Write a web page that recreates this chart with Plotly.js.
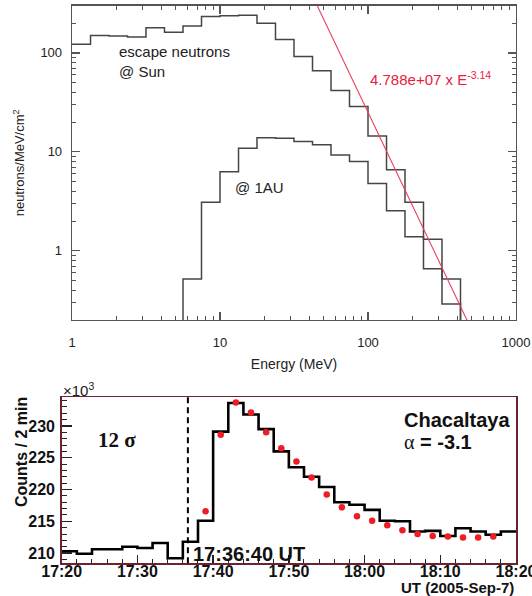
<!DOCTYPE html>
<html>
<head>
<meta charset="utf-8">
<script src="https://cdn.plot.ly/plotly-3.0.1.min.js"></script>
<style>html,body{margin:0;padding:0;background:#fff;}#chart{width:532px;height:596px;}</style>
</head>
<body>
<div id="chart"></div>
<script>
// ---- Top panel: neutron spectra ----
const energyEdges = [1, 1.334, 1.778, 2.371, 3.162, 4.217, 5.623, 7.499, 10, 13.34, 17.78, 23.71, 31.62, 42.17, 56.23, 74.99, 100, 133.4, 177.8, 237.1, 316.2, 421.7];
const escapeSun = [122, 150, 148, 145, 180, 162, 187, 233, 238, 240, 200, 137, 92, 66, 41.6, 28.7, 14.5, 6.6, 3.1, 1.31, 0.52];
const at1AU = [null, null, null, null, null, null, 0.52, 3.1, 6.3, 10.9, 13.9, 13.7, 12.7, 11.8, 9.3, 8.0, 4.8, 2.54, 1.39, 0.66, 0.29];
const fitAmplitude = 4.788e7;
const fitIndex = -3.14;
const fitEnergies = [40, 480];
const energyTicks = [1, 10, 100, 1000];
const energyTickText = ['1', '10', '100', '1000'];
const fluxTicks = [1, 10, 100];
const fluxTickText = ['1', '10', '100'];

// ---- Bottom panel: Chacaltaya counts ----
const day = '2005-09-07 ';
const binStarts = ['17:20','17:22','17:24','17:26','17:28','17:30','17:32','17:34','17:36','17:38',
  '17:40','17:42','17:44','17:46','17:48','17:50','17:52','17:54','17:56','17:58',
  '18:00','18:02','18:04','18:06','18:08','18:10','18:12','18:14','18:16','18:18'];
const binEnd = '18:20';
const counts = [210.3, 209.9, 210.6, 210.6, 211.0, 210.8, 211.6, 209.2, 211.8, 215.1,
  229.1, 233.6, 231.8, 229.5, 226.0, 223.5, 222.0, 220.4, 218.0, 217.6,
  216.8, 215.1, 215.0, 213.4, 213.5, 212.7, 213.9, 213.4, 212.9, 213.4];
const modelTimes = ['17:39','17:41','17:43','17:45','17:47','17:49','17:51','17:53','17:55','17:57',
  '17:59','18:01','18:03','18:05','18:07','18:09','18:11','18:13','18:15','18:17'];
const modelCounts = [216.6, 228.6, 233.7, 232.1, 229.0, 226.5, 224.4, 221.9, 219.2, 217.2,
  215.8, 215.1, 214.4, 213.6, 213.0, 212.7, 212.6, 212.45, 212.45, 212.6];
const onsetTime = '17:36:40';
const timeTicksMajor = ['17:20','17:30','17:40','17:50','18:00','18:10','18:20'];

const FONT = 'Liberation Sans, Arial, Helvetica, sans-serif';
const SERIF = 'Liberation Serif, Times New Roman, serif';

function stepTrace(edges, vals, floorVal, xa, ya, color, width) {
  const xs = [], ys = [];
  let first = vals.findIndex(v => v !== null);
  let last = vals.length - 1;
  while (vals[last] === null) last--;
  if (first > 0) { xs.push(edges[first]); ys.push(floorVal); }
  for (let i = first; i <= last; i++) { xs.push(edges[i]); ys.push(vals[i]); }
  xs.push(edges[last + 1]); ys.push(vals[last]);
  xs.push(edges[last + 1]); ys.push(floorVal);
  return {x: xs, y: ys, xaxis: xa, yaxis: ya, mode: 'lines', line: {shape: 'hv', color: color, width: width}, hoverinfo: 'skip', showlegend: false};
}

const traces = [];
traces.push(stepTrace(energyEdges, escapeSun, 0.01, 'x', 'y', '#454545', 1.5));
traces.push(stepTrace(energyEdges, at1AU, 0.01, 'x', 'y', '#454545', 1.5));
traces.push({x: fitEnergies, y: fitEnergies.map(e => fitAmplitude * Math.pow(e, fitIndex)), xaxis: 'x', yaxis: 'y',
  mode: 'lines', line: {color: '#e8405e', width: 1.1}, showlegend: false});

const tEdges = binStarts.concat([binEnd]).map(t => day + t);
const cx = [], cy = [];
for (let i = 0; i < counts.length; i++) { cx.push(tEdges[i]); cy.push(counts[i]); }
cx.push(tEdges[counts.length]); cy.push(counts[counts.length - 1]);
traces.push({x: cx, y: cy, xaxis: 'x2', yaxis: 'y2', mode: 'lines', line: {shape: 'hv', color: '#000', width: 2.6}, showlegend: false});
traces.push({x: modelTimes.map(t => day + t), y: modelCounts, xaxis: 'x2', yaxis: 'y2', mode: 'markers',
  marker: {color: '#ee1c25', size: 6.5}, showlegend: false});

const axisGray = '#555';
const layout = {
  width: 532, height: 596,
  margin: {l: 0, r: 0, t: 0, b: 0},
  paper_bgcolor: '#fff', plot_bgcolor: '#fff',
  font: {family: FONT, color: '#222'},
  showlegend: false,
  xaxis: {
    domain: [72/532, 516/532], anchor: 'y', type: 'log', range: [0, 3],
    tickmode: 'array', tickvals: energyTicks, ticktext: energyTickText,
    ticks: 'inside', ticklen: 8, tickwidth: 1.2, tickcolor: axisGray,
    minor: {ticks: 'inside', ticklen: 4, tickwidth: 1, tickcolor: axisGray, dtick: 'D1', showgrid: false},
    showline: true, linecolor: axisGray, linewidth: 1.3, mirror: 'ticks',
    showgrid: false, zeroline: false, ticklabeloverflow: 'allow',
    tickfont: {size: 13, color: '#222'}, ticklabelstandoff: 10,
    title: {text: 'Energy (MeV)', font: {size: 14, color: '#222'}, standoff: 10}
  },
  yaxis: {
    domain: [1 - 320/596, 1 - 5.7/596], anchor: 'x', type: 'log', range: [Math.log10(0.2), Math.log10(300)],
    tickmode: 'array', tickvals: fluxTicks, ticktext: fluxTickText,
    ticks: 'inside', ticklen: 8, tickwidth: 1.2, tickcolor: axisGray,
    minor: {ticks: 'inside', ticklen: 4, tickwidth: 1, tickcolor: axisGray, dtick: 'D1', showgrid: false},
    showline: true, linecolor: axisGray, linewidth: 1.3, mirror: 'ticks',
    showgrid: false, zeroline: false,
    tickfont: {size: 13, color: '#222'}, ticklabelstandoff: 6,
    title: {text: 'neutrons/MeV/cm<sup>2</sup>', font: {size: 13, color: '#222'}, standoff: 12}
  },
  xaxis2: {
    domain: [61.7/532, 516/532], anchor: 'y2', type: 'date',
    range: [day + '17:20', day + '18:20'],
    tickmode: 'array', tickvals: timeTicksMajor.map(t => day + t), ticktext: timeTicksMajor,
    ticks: 'inside', ticklen: 8, tickwidth: 1.3, tickcolor: '#222',
    minor: {ticks: 'inside', ticklen: 4, tickwidth: 1, tickcolor: '#222', dtick: 120000, showgrid: false},
    showline: true, linecolor: '#6e2230', linewidth: 1.5, mirror: true,
    showgrid: false, zeroline: false, ticklabeloverflow: 'allow',
    tickfont: {size: 16, color: '#111', weight: 'bold'}, ticklabelstandoff: -7
  },
  yaxis2: {
    domain: [1 - 563.3/596, 1 - 397.3/596], anchor: 'x2', range: [208.4, 234.5],
    dtick: 5, tick0: 210,
    ticks: 'inside', ticklen: 10, tickwidth: 1.3, tickcolor: '#222',
    minor: {ticks: 'inside', ticklen: 5, tickwidth: 1, tickcolor: '#222', dtick: 1, showgrid: false},
    showline: true, linecolor: '#6e2230', linewidth: 1.5, mirror: true,
    showgrid: false, zeroline: false,
    tickfont: {size: 16, color: '#111', weight: 'bold'}, ticklabelstandoff: 2
  },
  shapes: [{type: 'line', xref: 'x2', yref: 'y2 domain', x0: day + onsetTime, x1: day + onsetTime, y0: 0, y1: 1,
    line: {color: '#000', width: 2, dash: '6px,4px'}}],
  annotations: [
    {xref: 'x', yref: 'y', x: 0.302, y: 1.914, xanchor: 'left', yanchor: 'middle', align: 'left', showarrow: false,
     text: 'escape neutrons<br>@ Sun', font: {size: 15, color: '#222'}},
    {xref: 'x', yref: 'y', x: 1.088, y: 0.636, xanchor: 'left', yanchor: 'middle', showarrow: false,
     text: '@ 1AU', font: {size: 15, color: '#222'}},
    {xref: 'x', yref: 'y', x: 1.998, y: 1.74, xanchor: 'left', yanchor: 'middle', showarrow: false,
     text: '4.788e+07 x E<sup>-3.14</sup>', font: {size: 15, color: '#e8203e'}},
    {xref: 'paper', yref: 'paper', x: 61/532, y: 1 - 389/596, xanchor: 'left', yanchor: 'middle', showarrow: false,
     text: '×10<sup>3</sup>', font: {size: 15, color: '#222'}},
    {xref: 'paper', yref: 'paper', x: 21/532, y: 1 - 452/596, xanchor: 'center', yanchor: 'middle', showarrow: false,
     textangle: -90, text: 'Counts / 2 min', font: {size: 16, color: '#111', weight: 'bold'}},
    {xref: 'x2', yref: 'y2', x: day + '17:24:35', y: 227.8, xanchor: 'left', yanchor: 'middle', showarrow: false,
     text: '12 σ', font: {size: 21, family: SERIF, color: '#111', weight: 'bold'}},
    {xref: 'x2', yref: 'y2', x: day + '18:05:00', y: 230.9, xanchor: 'left', yanchor: 'middle', showarrow: false,
     text: 'Chacaltaya', font: {size: 20, color: '#111', weight: 'bold'}},
    {xref: 'x2', yref: 'y2', x: day + '18:05:00', y: 227.4, xanchor: 'left', yanchor: 'middle', showarrow: false,
     text: '<span style="font-family:Liberation Serif;font-weight:normal">α</span> = -3.1', font: {size: 20, color: '#111', weight: 'bold'}},
    {xref: 'x2', yref: 'y2', x: day + '17:37:05', y: 209.9, xanchor: 'left', yanchor: 'middle', showarrow: false,
     text: '17:36:40 UT', font: {size: 20, color: '#111', weight: 'bold'}},
    {xref: 'paper', yref: 'paper', x: 516/532, y: 1 - 587/596, xanchor: 'right', yanchor: 'middle', showarrow: false,
     text: 'UT (2005-Sep-7)', font: {size: 15, color: '#111', weight: 'bold'}}
  ]
};

Plotly.newPlot('chart', traces, layout, {displayModeBar: false, staticPlot: true});
</script>
</body>
</html>
